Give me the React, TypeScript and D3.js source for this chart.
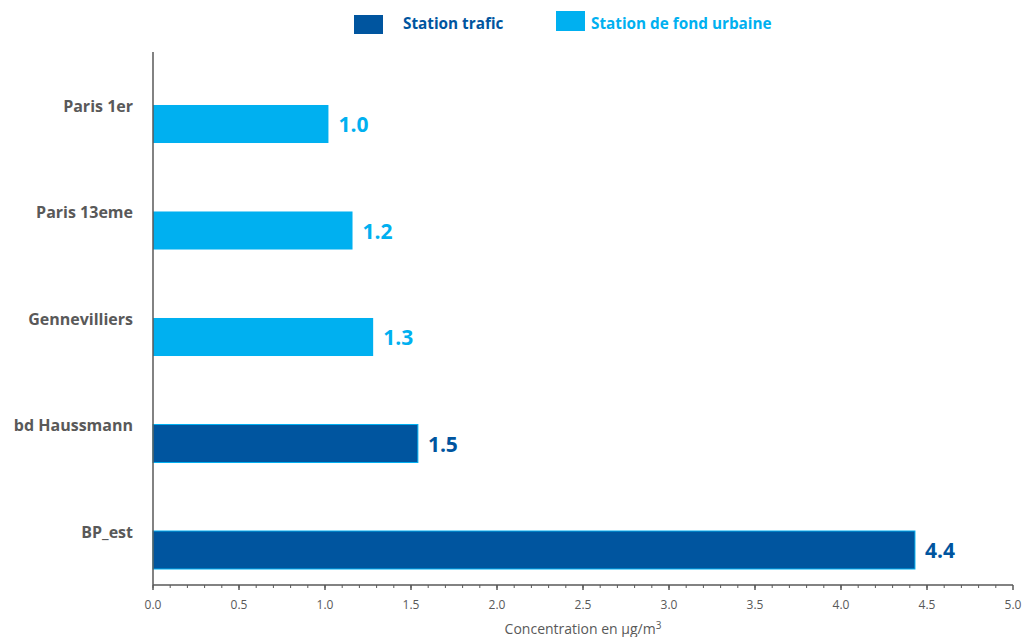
import React from "react";
import * as d3 from "d3";

const categories = ["Paris 1er", "Paris 13eme", "Gennevilliers", "bd Haussmann", "BP_est"];
const values = [1.02, 1.16, 1.28, 1.54, 4.43];
const stationTypes = ["fond", "fond", "fond", "trafic", "trafic"];
const xTicks = [0, 0.5, 1, 1.5, 2, 2.5, 3, 3.5, 4, 4.5, 5];
const legendItems = [
  { key: "trafic", label: "Station trafic" },
  { key: "fond", label: "Station de fond urbaine" },
];

const DARK = "#00559F";
const LIGHT = "#00B0F0";
const FONT = "'Open Sans', Lato, sans-serif";

export default function App() {
  const W = 1025, H = 637;
  const x = d3.scaleLinear().domain([0, 5]).range([153, 1013]);
  const y = d3.scaleBand<string>().domain(categories).range([70.75, 603.25]).paddingInner(0.643).paddingOuter(0.3215);
  const axisY = 585;
  const minor = d3.range(0, 50).map((i) => i / 10);
  const color = (t: string) => (t === "trafic" ? DARK : LIGHT);

  return (
    <svg width={W} height={H} style={{ position: "absolute", left: 0, top: 0 }} fontFamily={FONT}>
      <rect width={W} height={H} fill="#fff" />
      {/* legend */}
      <rect x={354} y={15} width={29} height={19} fill={DARK} />
      <text x={403} y={29} fontSize={15.3} fontWeight="bold" fill={DARK}>{legendItems[0].label}</text>
      <rect x={556} y={11} width={29} height={20} fill={LIGHT} />
      <text x={591} y={29} fontSize={15.3} fontWeight="bold" fill={LIGHT}>{legendItems[1].label}</text>

      {/* bars */}
      {categories.map((c, i) => {
        const t = stationTypes[i];
        const y0 = y(c)!;
        const bw = y.bandwidth();
        return (
          <g key={c}>
            <rect x={x(0)} y={y0} width={x(values[i]) - x(0)} height={bw} fill={color(t)}
              stroke={t === "trafic" ? LIGHT : "none"} strokeWidth={1} />
            <text x={x(values[i]) + 10} y={y0 + bw / 2 + 8} fontSize={21} fontWeight="bold" fill={color(t)}>
              {values[i].toFixed(1)}
            </text>
            <text x={133} y={y0 + 7} textAnchor="end" fontSize={16} fontWeight="bold" fill="#595959">{c}</text>
          </g>
        );
      })}

      {/* axes */}
      <line x1={153} x2={153} y1={52} y2={axisY} stroke="#595959" strokeWidth={1.5} />
      <line x1={153} x2={1013} y1={axisY} y2={axisY} stroke="#595959" strokeWidth={1.5} />
      {minor.map((v) => (
        <line key={"m" + v} x1={x(v)} x2={x(v)} y1={axisY} y2={axisY + 3} stroke="#595959" strokeWidth={1} />
      ))}
      {xTicks.map((v) => (
        <g key={"t" + v}>
          <line x1={x(v)} x2={x(v)} y1={axisY} y2={axisY + 5} stroke="#595959" strokeWidth={1.5} />
          <text x={x(v)} y={609} textAnchor="middle" fontSize={12} fill="#595959">{v.toFixed(1)}</text>
        </g>
      ))}
      <text x={583} y={634} textAnchor="middle" fontSize={14} fill="#595959">
        Concentration en µg/m<tspan dy={-5} fontSize={10}>3</tspan>
      </text>
    </svg>
  );
}
